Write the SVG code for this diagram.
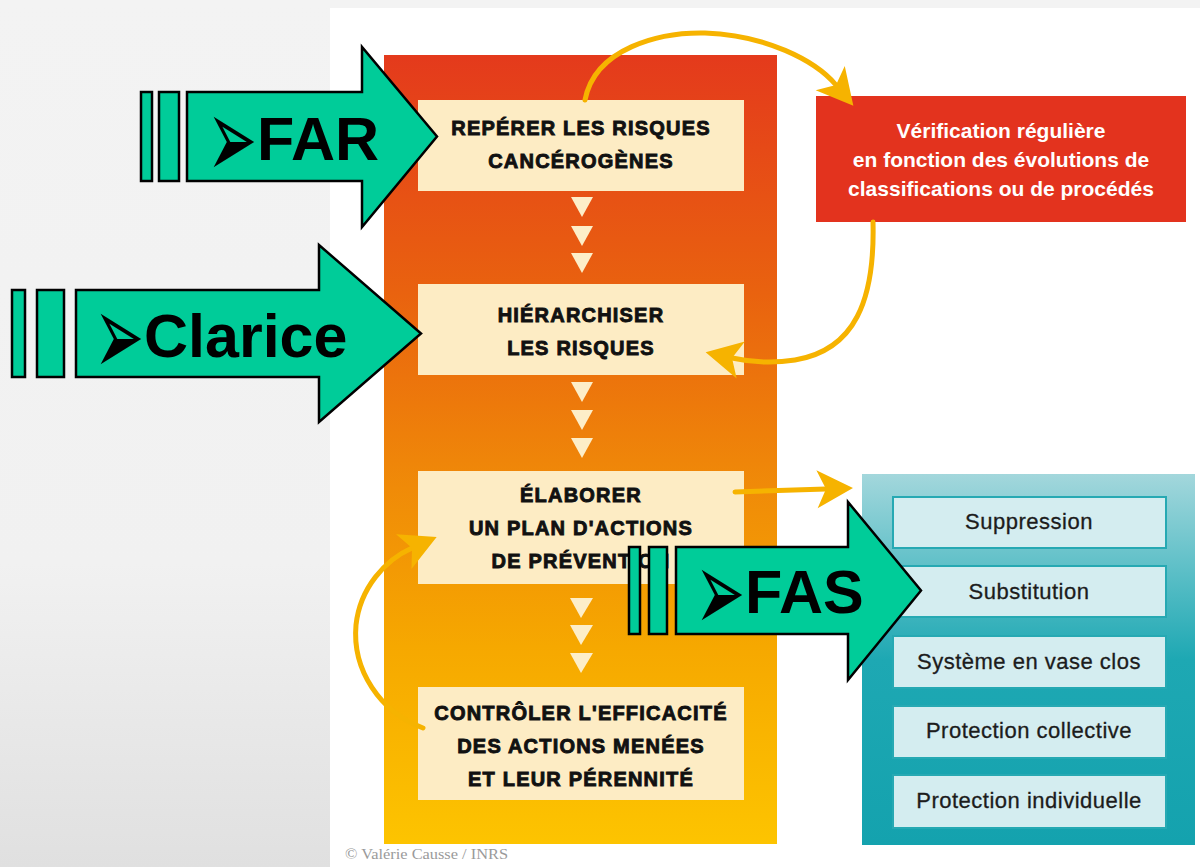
<svg xmlns="http://www.w3.org/2000/svg" width="1200" height="867" viewBox="0 0 1200 867">
<defs>
<linearGradient id="bg" x1="0" y1="0" x2="0" y2="1">
<stop offset="0" stop-color="#f3f3f3"/><stop offset="0.65" stop-color="#f1f1f1"/><stop offset="1" stop-color="#e0e0e0"/>
</linearGradient>
<linearGradient id="col" x1="0" y1="0" x2="0" y2="1">
<stop offset="0" stop-color="#e43a1c"/><stop offset="0.3" stop-color="#e9620f"/><stop offset="0.55" stop-color="#f08b08"/><stop offset="0.75" stop-color="#f6a800"/><stop offset="1" stop-color="#fdc400"/>
</linearGradient>
<linearGradient id="teal" x1="0" y1="0" x2="0" y2="1">
<stop offset="0" stop-color="#a3d7dc"/><stop offset="0.25" stop-color="#5fc0c8"/><stop offset="0.5" stop-color="#1ea8b3"/><stop offset="1" stop-color="#14a2ae"/>
</linearGradient>
<marker id="head" markerUnits="userSpaceOnUse" viewBox="-12 -22 42 44" markerWidth="42" markerHeight="44" refX="0" refY="0" orient="auto">
<path d="M27,0 L-9,-19 L0,0 L-9,19 Z" fill="#f6b300"/>
</marker>
<style>
.cream{fill:#fdecc4}
.step{font-family:"Liberation Sans",Arial,sans-serif;font-weight:bold;font-size:20px;letter-spacing:1.2px;fill:#111;stroke:#111;stroke-width:0.9;text-anchor:middle}
.tri{fill:#fdeec8}
.red{font-family:"Liberation Sans",Arial,sans-serif;font-weight:bold;font-size:21px;fill:#fff;text-anchor:middle}
.inner{fill:#d4edf0;stroke:#26a9b3;stroke-width:2}
.itxt{font-family:"Liberation Sans",Arial,sans-serif;font-size:22px;letter-spacing:0.5px;fill:#1c1c1c;stroke:#1c1c1c;stroke-width:0.3;text-anchor:middle}
.conn{fill:none;stroke:#f6b300;stroke-width:5;stroke-linecap:round;marker-end:url(#head)}
.green{fill:#00cc99;stroke:#000;stroke-width:2.5;stroke-linejoin:miter}
.big{font-family:"Liberation Sans",Arial,sans-serif;font-weight:bold;font-size:61px;fill:#000}
.bul{font-family:"DejaVu Sans",sans-serif;font-size:46px;fill:#000}
</style>
</defs>
<rect x="0" y="0" width="1200" height="867" fill="url(#bg)"/>
<rect x="330" y="8" width="870" height="859" fill="#fff"/>

<g id="column">
<rect x="384" y="55" width="393" height="789" fill="url(#col)"/>
</g>

<g id="step1">
<rect class="cream" x="418" y="100" width="326" height="91"/>
<text class="step" x="581" y="135">REPÉRER LES RISQUES</text>
<text class="step" x="581" y="168">CANCÉROGÈNES</text>
</g>
<g id="step2">
<rect class="cream" x="418" y="284" width="326" height="91"/>
<text class="step" x="581" y="322">HIÉRARCHISER</text>
<text class="step" x="581" y="355">LES RISQUES</text>
</g>
<g id="step3">
<rect class="cream" x="418" y="471" width="326" height="113"/>
<text class="step" x="581" y="502">ÉLABORER</text>
<text class="step" x="581" y="535">UN PLAN D'ACTIONS</text>
<text class="step" x="581" y="568">DE PRÉVENTION</text>
</g>
<g id="step4">
<rect class="cream" x="418" y="687" width="326" height="113"/>
<text class="step" x="581" y="720">CONTRÔLER L'EFFICACITÉ</text>
<text class="step" x="581" y="753">DES ACTIONS MENÉES</text>
<text class="step" x="581" y="786">ET LEUR PÉRENNITÉ</text>
</g>

<g id="flow-triangles">
<polygon class="tri" points="571,197 593,197 582,217"/>
<polygon class="tri" points="571,226 593,226 582,246"/>
<polygon class="tri" points="571,253 593,253 582,273"/>
<polygon class="tri" points="571,382 593,382 582,402"/>
<polygon class="tri" points="571,410 593,410 582,430"/>
<polygon class="tri" points="571,438 593,438 582,458"/>
<polygon class="tri" points="570,598 593,598 581,618"/>
<polygon class="tri" points="570,625 593,625 581,645"/>
<polygon class="tri" points="570,653 593,653 581,673"/>
</g>

<g id="verification">
<rect x="816" y="96" width="370" height="126" fill="#e3331e"/>
<text class="red" x="1001" y="138">Vérification régulière</text>
<text class="red" x="1001" y="167">en fonction des évolutions de</text>
<text class="red" x="1001" y="196">classifications ou de procédés</text>
</g>

<g id="measures">
<rect x="862" y="474" width="333" height="371" fill="url(#teal)"/>
<g id="suppression"><rect class="inner" x="893" y="497" width="273" height="51"/><text class="itxt" x="1029" y="529">Suppression</text></g>
<g id="substitution"><rect class="inner" x="893" y="566" width="273" height="51"/><text class="itxt" x="1029" y="599">Substitution</text></g>
<g id="vase-clos"><rect class="inner" x="893" y="636" width="273" height="52"/><text class="itxt" x="1029" y="669">Système en vase clos</text></g>
<g id="protection-collective"><rect class="inner" x="893" y="706" width="273" height="52"/><text class="itxt" x="1029" y="738">Protection collective</text></g>
<g id="protection-individuelle"><rect class="inner" x="893" y="775" width="273" height="53"/><text class="itxt" x="1029" y="808">Protection individuelle</text></g>
</g>

<g id="connectors">
<path class="conn" d="M585,100 C595,48 660,32 705,33 C765,35 815,60 836,85"/>
<path class="conn" d="M873,222 C875,300 855,350 795,360 C770,364 750,362 732,358"/>
<path class="conn" d="M735,492 L826,489"/>
<path class="conn" d="M423,728 C380,712 352,670 356,625 C360,588 385,560 412,548"/>
</g>

<g id="far">
<rect class="green" x="141" y="92" width="11" height="89"/>
<rect class="green" x="159" y="92" width="20" height="89"/>
<polygon class="green" points="187,92 362,92 362,47 437,136.5 362,227 362,181 187,181"/>
<text class="bul" transform="translate(207,137.5) scale(1.3,2.5)" x="0" y="16">➢</text>
<text class="big" x="257" y="160">FAR</text>
</g>

<g id="clarice">
<rect class="green" x="12" y="290" width="13" height="87"/>
<rect class="green" x="37" y="290" width="27" height="87"/>
<polygon class="green" points="76,290 319,290 319,245 421,333.5 319,422 319,377 76,377"/>
<text class="bul" transform="translate(94,335) scale(1.3,2.5)" x="0" y="16">➢</text>
<text class="big" x="144" y="357">Clarice</text>
</g>

<g id="fas">
<rect class="green" x="629" y="547" width="11" height="87"/>
<rect class="green" x="649" y="547" width="18" height="87"/>
<polygon class="green" points="676,547 848,547 848,502 921,590.5 848,680 848,634 676,634"/>
<text class="bul" transform="translate(695,591) scale(1.3,2.5)" x="0" y="16">➢</text>
<text class="big" x="745" y="613">FAS</text>
</g>

<text x="345" y="859" font-family="Liberation Serif, serif" font-size="14" fill="#9a9a9a" textLength="163" lengthAdjust="spacingAndGlyphs">© Valérie Causse / INRS</text>
</svg>
